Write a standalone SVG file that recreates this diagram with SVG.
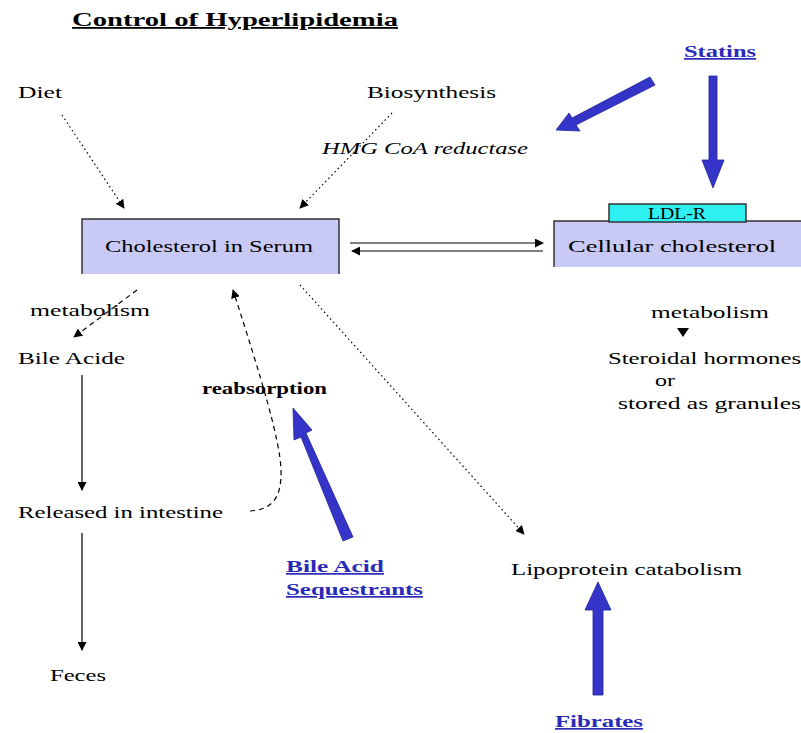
<svg xmlns="http://www.w3.org/2000/svg" width="801" height="733" viewBox="0 0 801 733">
<defs>
<marker id="ah" viewBox="0 0 10 10" refX="9" refY="5" markerWidth="9" markerHeight="9" markerUnits="userSpaceOnUse" orient="auto"><path d="M0,0 L10,5 L0,10 Z" fill="#000"/></marker>
<style>
text{font-family:"Liberation Serif","Times New Roman",serif;font-size:17px;fill:#000}
.t{font-weight:bold;text-decoration:underline;font-size:18px}
.drug{fill:#2a2ab8;font-weight:bold;text-decoration:underline}
.it{font-style:italic}
.box{fill:#c9c9f5}
.edge{fill:none;stroke:#333;stroke-width:1.5}
.line{fill:none;stroke:#000;stroke-width:1.2}
.dot{fill:none;stroke:#000;stroke-width:1.2;stroke-dasharray:1.5 3}
.dash{fill:none;stroke:#000;stroke-width:1.2;stroke-dasharray:5 4}
.blue{fill:#3434c8;stroke:#22229a;stroke-width:0.8}
</style>
</defs>
<rect width="801" height="733" fill="#fff"/>
<text class="t" x="72" y="26" textLength="326" lengthAdjust="spacingAndGlyphs">Control of Hyperlipidemia</text>

<g id="diet"><text x="18" y="98" textLength="44" lengthAdjust="spacingAndGlyphs">Diet</text></g>
<g id="biosynthesis"><text x="367" y="98" textLength="129" lengthAdjust="spacingAndGlyphs">Biosynthesis</text></g>
<g id="hmg"><text class="it" x="322" y="154" textLength="206" lengthAdjust="spacingAndGlyphs">HMG CoA reductase</text></g>
<g id="statins"><text class="drug" x="684" y="57" textLength="72" lengthAdjust="spacingAndGlyphs">Statins</text></g>

<g id="serum">
<rect class="box" x="82" y="219" width="257" height="55"/>
<path class="edge" d="M82,274 V219 H339 V274"/>
<text x="105" y="252" textLength="208" lengthAdjust="spacingAndGlyphs">Cholesterol in Serum</text>
</g>

<g id="cellular">
<rect class="box" x="554" y="221" width="247" height="46"/>
<path class="edge" d="M554,267 V221 H801"/>
<text x="568" y="252" textLength="208" lengthAdjust="spacingAndGlyphs">Cellular cholesterol</text>
</g>
<g id="ldlr">
<rect x="609" y="204" width="137" height="18" fill="#2ff0f0" stroke="#333" stroke-width="1.5"/>
<text x="648" y="219" font-size="15" textLength="58" lengthAdjust="spacingAndGlyphs">LDL-R</text>
</g>

<g id="metabolism-left"><text x="30" y="316" textLength="120" lengthAdjust="spacingAndGlyphs">metabolism</text></g>
<g id="bile-acide"><text x="18" y="364" textLength="107" lengthAdjust="spacingAndGlyphs">Bile Acide</text></g>
<g id="released"><text x="18" y="518" textLength="205" lengthAdjust="spacingAndGlyphs">Released in intestine</text></g>
<g id="feces"><text x="50" y="681" textLength="56" lengthAdjust="spacingAndGlyphs">Feces</text></g>
<g id="reabsorption"><text x="202" y="394" font-weight="bold" textLength="125" lengthAdjust="spacingAndGlyphs">reabsorption</text></g>
<g id="bas"><text class="drug" x="286" y="572" textLength="98" lengthAdjust="spacingAndGlyphs">Bile Acid</text><text class="drug" x="286" y="595" textLength="137" lengthAdjust="spacingAndGlyphs">Sequestrants</text></g>
<g id="lipoprotein"><text x="511" y="575" textLength="231" lengthAdjust="spacingAndGlyphs">Lipoprotein catabolism</text></g>
<g id="fibrates"><text class="drug" x="555" y="727" textLength="88" lengthAdjust="spacingAndGlyphs">Fibrates</text></g>

<g id="metabolism-right"><text x="651" y="318" textLength="118" lengthAdjust="spacingAndGlyphs">metabolism</text></g>
<g id="steroidal"><text x="608" y="364" textLength="193" lengthAdjust="spacingAndGlyphs">Steroidal hormones</text></g>
<g id="or"><text x="655" y="386" textLength="20" lengthAdjust="spacingAndGlyphs">or</text></g>
<g id="stored"><text x="618" y="409" textLength="183" lengthAdjust="spacingAndGlyphs">stored as granules</text></g>

<g id="connectors">
<path class="dot" d="M62,115 L124,208" marker-end="url(#ah)"/>
<path class="dot" d="M392,113 L300,208" marker-end="url(#ah)"/>
<path class="line" d="M350,243 H543" marker-end="url(#ah)"/>
<path class="line" d="M543,251 H352" marker-end="url(#ah)"/>
<path class="dash" d="M137,290 L74,337" marker-end="url(#ah)"/>
<path class="line" d="M82,375 V490" marker-end="url(#ah)"/>
<path class="line" d="M82,533 V650" marker-end="url(#ah)"/>
<path class="dash" d="M250,511 C270,510 282,500 281,470 C280,440 262,380 233,290" marker-end="url(#ah)"/>
<path class="dot" d="M300,285 L524,534" marker-end="url(#ah)"/>
<path d="M677,328 H689 L683,337 Z" fill="#000"/>
<polygon class="blue" points="650,77 655,85 576,125 580,131 556,130 569,113 572,118"/>
<polygon class="blue" points="709,76 717,76 717,160 724,160 713,188 702,160 709,160"/>
<polygon class="blue" points="353,537 343,541 301,437 294,440 293,408 312,430 306,433"/>
<polygon class="blue" points="593,695 603,695 603,610 611,610 598,582 585,610 593,610"/>
</g>
</svg>
